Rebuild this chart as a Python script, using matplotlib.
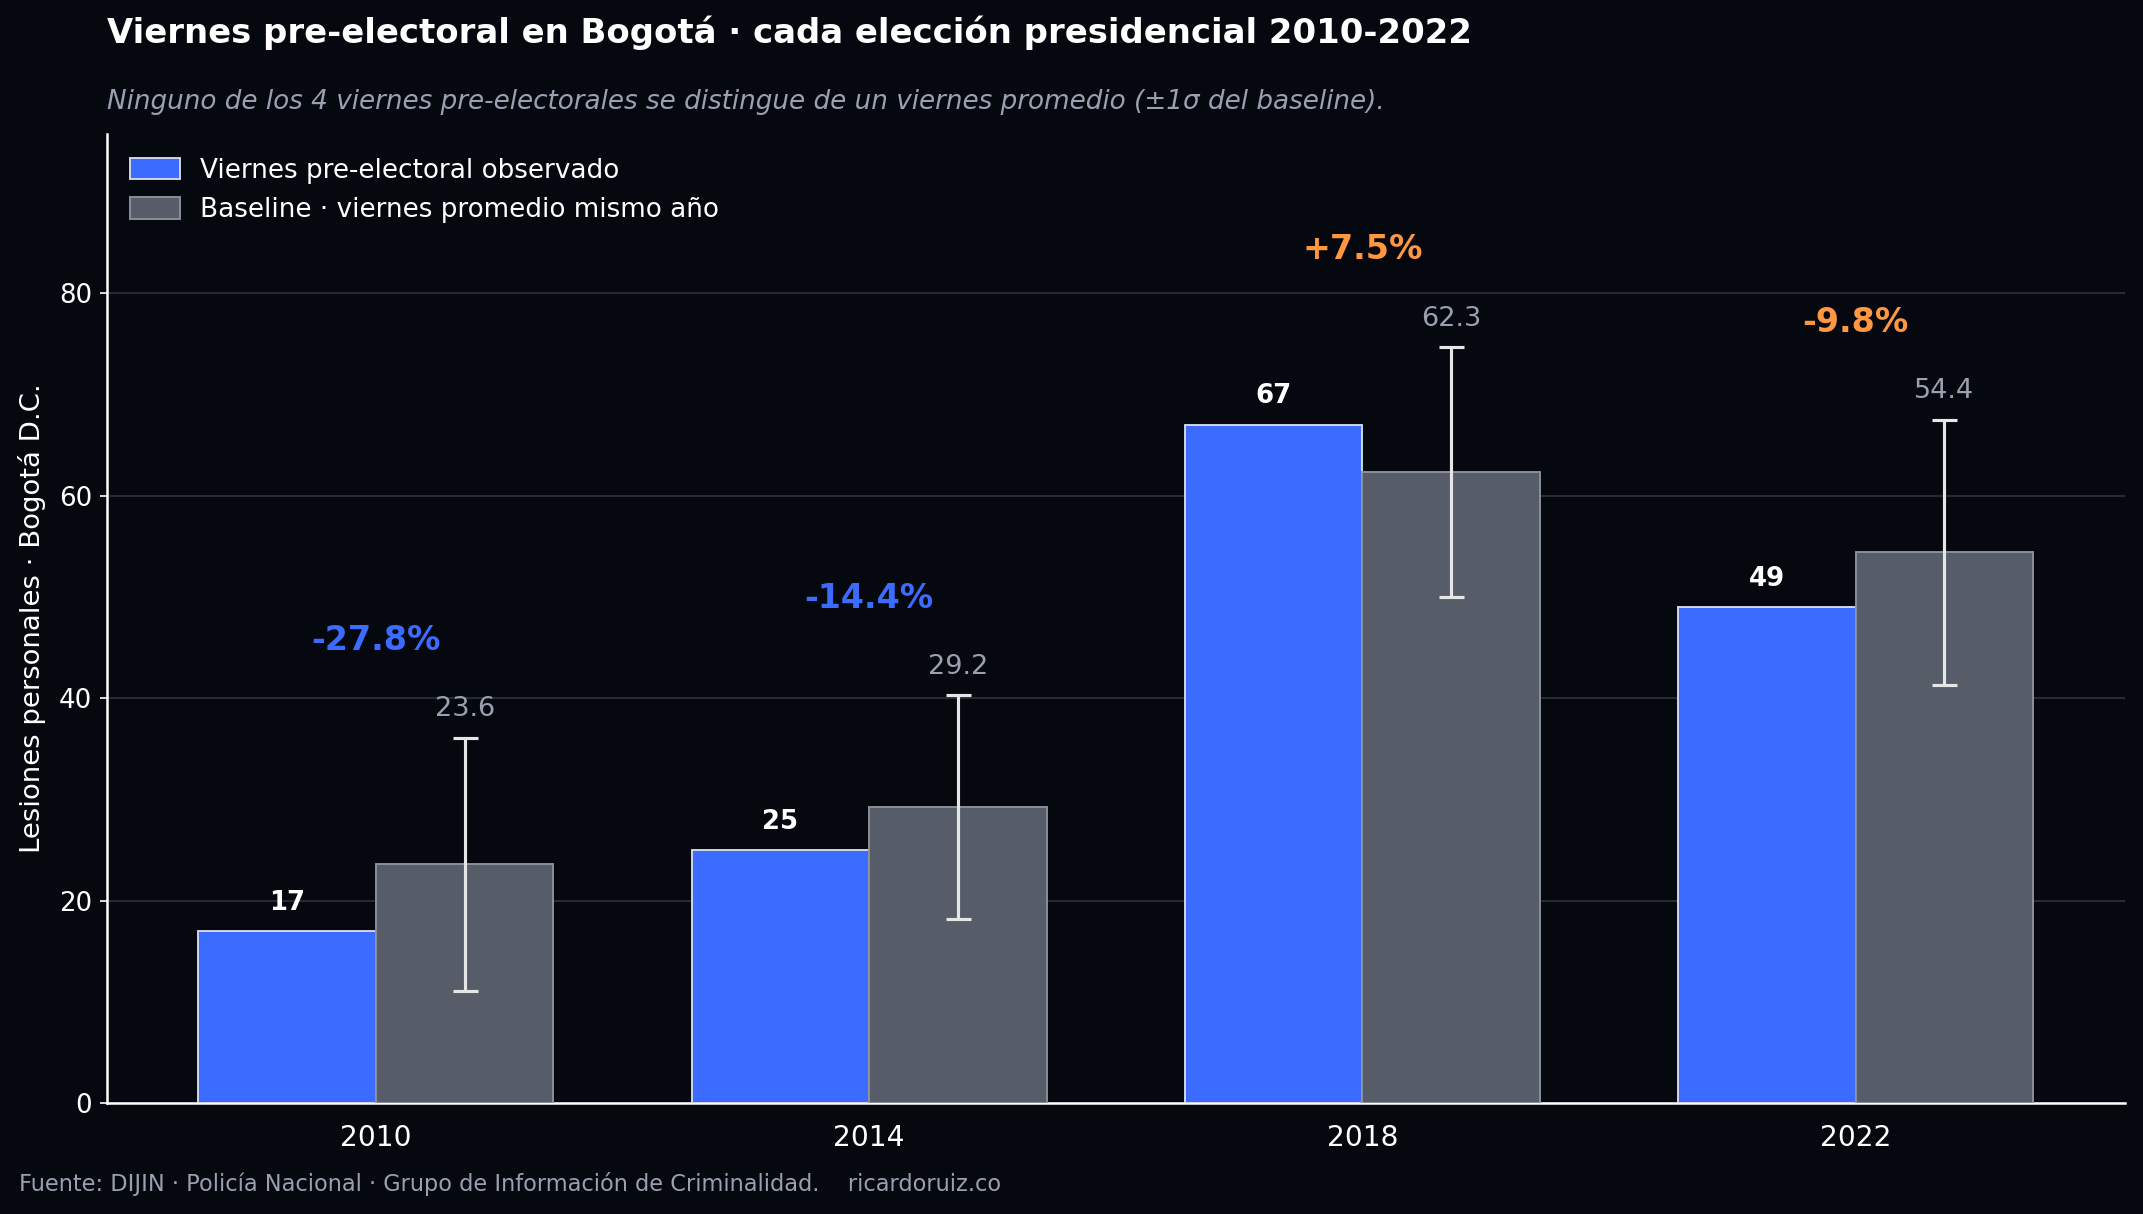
import numpy as np
import matplotlib
matplotlib.use("Agg")
import matplotlib.pyplot as plt

# Data
years = ["2010", "2014", "2018", "2022"]
observed = [17, 25, 67, 49]
baseline = [23.6, 29.2, 62.3, 54.4]
baseline_sd = [12.5, 11.05, 12.35, 13.1]
pct_change = [-27.8, -14.4, 7.5, -9.8]

# Colours
BG = "#05080f"
BLUE = "#3b6bff"
GREY = "#575d68"
ORANGE = "#ff9640"
MUTED = "#9aa0b0"
GRID = "#262a35"

plt.rcParams['font.family'] = ['DejaVu Sans']

fig = plt.figure(figsize=(2143 / 150, 1214 / 150), dpi=150, facecolor=BG)
ax = fig.add_axes([0.0497, 0.0914, 0.9419, 0.7982])
ax.set_facecolor(BG)

x = np.arange(len(years))
w = 0.36

ax.bar(x - w / 2, observed, w, color=BLUE, edgecolor="#d8dce8", linewidth=0.9,
       label="Viernes pre-electoral observado", zorder=3)
ax.bar(x + w / 2, baseline, w, color=GREY, edgecolor="#8d929c", linewidth=0.9,
       label="Baseline · viernes promedio mismo año", zorder=3)
ax.errorbar(x + w / 2, baseline, yerr=baseline_sd, fmt="none", ecolor="#e6e6e6",
            elinewidth=1.5, capsize=6, capthick=1.5, zorder=4)

for i in range(len(years)):
    ax.text(x[i] - w / 2, observed[i] + 2.8, f"{observed[i]}", ha="center", va="center",
            color="white", fontsize=12.5, fontweight="bold", zorder=5)
    top = baseline[i] + baseline_sd[i]
    ax.text(x[i] + w / 2, top + 2.8, f"{baseline[i]:.1f}", ha="center", va="center",
            color=MUTED, fontsize=13, zorder=5)
    c = BLUE if pct_change[i] < -10 else ORANGE
    label_y = max(observed[i], top) + 9.6
    ax.text(x[i], label_y, f"{pct_change[i]:+.1f}%", ha="center", va="center",
            color=c, fontsize=16, fontweight="bold", zorder=5)

ax.set_ylim(0, 95.7)
ax.set_xticks(x)
ax.set_xticklabels(years)
ax.set_yticks([0, 20, 40, 60, 80])
ax.tick_params(colors="white", labelsize=12.5)
ax.tick_params(axis="x", length=0, pad=10, labelsize=13.5)
ax.grid(axis="y", color=GRID, linewidth=1, zorder=0)
for s in ["top", "right"]:
    ax.spines[s].set_visible(False)
for s in ["left", "bottom"]:
    ax.spines[s].set_color("white")
    ax.spines[s].set_linewidth(1.2)

ax.set_ylabel("Lesiones personales · Bogotá D.C.", color="white", fontsize=13.2, labelpad=6)

leg = ax.legend(loc="upper left", frameon=False, fontsize=12.6, labelcolor="white",
                handlelength=1.9, handleheight=0.9, handletextpad=0.75,
                borderaxespad=0.5, bbox_to_anchor=(0.0, 1.0))

fig.text(0.0497, 0.9728, "Viernes pre-electoral en Bogotá · cada elección presidencial 2010-2022",
         color="white", fontsize=16.25, fontweight="bold", ha="left", va="center")
fig.text(0.0497, 0.916, "Ninguno de los 4 viernes pre-electorales se distingue de un viernes promedio (±1σ del baseline).",
         color=MUTED, fontsize=12.6, style="italic", ha="left", va="center")
fig.text(0.009, 0.0245, "Fuente: DIJIN · Policía Nacional · Grupo de Información de Criminalidad.    ricardoruiz.co",
         color=MUTED, fontsize=10.8, ha="left", va="center")

fig.savefig("out.png", dpi=150, facecolor=BG)
